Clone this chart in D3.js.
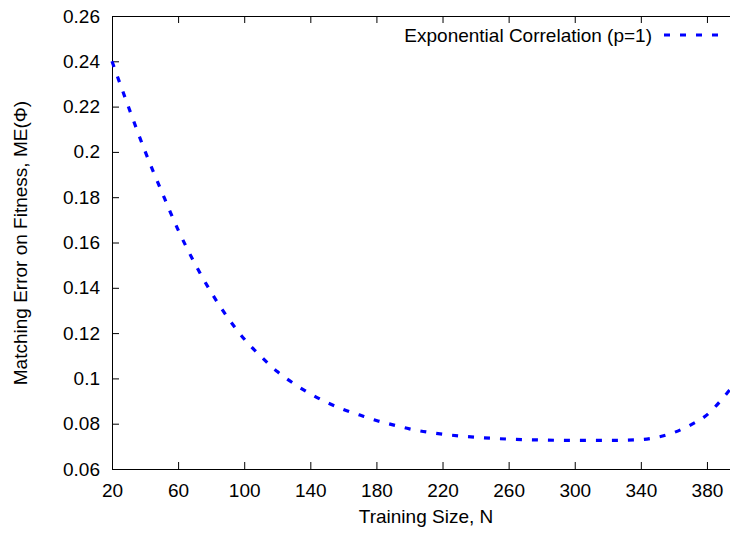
<!DOCTYPE html>
<html>
<head>
<meta charset="utf-8">
<script src="https://cdn.jsdelivr.net/npm/d3@7"></script>
<style>
  body { margin: 0; background: #fff; }
  svg { display: block; font-family: "Liberation Sans", Arial, sans-serif; }
  .axis path, .axis line { stroke: #000; }
  .axis text { font-size: 19px; fill: #000; }
</style>
</head>
<body>
<svg id="chart" width="730" height="533"></svg>
<script>
// training size N
const sizes = [20, 30, 40, 50, 60, 70, 80, 90, 100, 110, 120, 130, 140, 150, 160, 170, 180, 190,
  200, 220, 240, 260, 280, 300, 320, 340, 350, 360, 370, 380, 390, 394];
// matching error on fitness, ME(Phi)
const errors = [0.240, 0.2198, 0.2003, 0.1826, 0.1656, 0.1509, 0.138, 0.1269, 0.1174, 0.1098, 0.103,
  0.0977, 0.0932, 0.0894, 0.0863, 0.0838, 0.0814, 0.0795, 0.0777, 0.0754, 0.074, 0.0732, 0.0728,
  0.0726, 0.0726, 0.073, 0.074, 0.0761, 0.0794, 0.0839, 0.0916, 0.0951];
const xTicks = [20, 60, 100, 140, 180, 220, 260, 300, 340, 380];
const yTicks = [0.06, 0.08, 0.1, 0.12, 0.14, 0.16, 0.18, 0.2, 0.22, 0.24, 0.26];
const seriesName = "Exponential Correlation (p=1)";

const margin = { top: 16, left: 112 };
const plotW = 628, plotH = 453;

const svg = d3.select("svg#chart");
const g = svg.append("g").attr("transform", `translate(${margin.left}, ${margin.top})`);

const x = d3.scaleLinear().domain([20, 400]).range([0, plotW]);
const y = d3.scaleLinear().domain([0.06, 0.26]).range([plotH, 0]);

// bottom axis, ticks pointing inward
g.append("g")
  .attr("class", "axis")
  .attr("transform", `translate(0, ${plotH})`)
  .call(d3.axisBottom(x).tickValues(xTicks).tickSize(-7).tickPadding(15).tickSizeOuter(0))
  .selectAll("text").attr("dy", "0.71em");

// top mirror ticks
g.append("g")
  .attr("class", "axis")
  .call(d3.axisTop(x).tickValues(xTicks).tickSize(-7).tickFormat("").tickSizeOuter(0));

// left axis
g.append("g")
  .attr("class", "axis")
  .call(d3.axisLeft(y).tickValues(yTicks).tickSize(-7).tickPadding(12).tickSizeOuter(0)
    .tickFormat(d => d3.format("")(+d.toFixed(2))));

// right border (sits just past the cropped edge)
g.append("g")
  .attr("class", "axis")
  .attr("transform", `translate(${plotW}, 0)`)
  .call(d3.axisRight(y).tickValues(yTicks).tickSize(-7).tickFormat("").tickSizeOuter(0));

const line = d3.line()
  .x((d, i) => x(sizes[i]))
  .y(d => y(d))
  .curve(d3.curveMonotoneX);

g.append("path")
  .datum(errors)
  .attr("fill", "none")
  .attr("stroke", "#0000ff")
  .attr("stroke-width", 3.2)
  .attr("stroke-dasharray", "6,10")
  .attr("d", line);

// legend
svg.append("text")
  .attr("x", 652)
  .attr("y", 42)
  .attr("text-anchor", "end")
  .style("font-size", "19px")
  .text(seriesName);

svg.append("line")
  .attr("x1", 664).attr("x2", 718)
  .attr("y1", 35).attr("y2", 35)
  .attr("stroke", "#0000ff")
  .attr("stroke-width", 3.2)
  .attr("stroke-dasharray", "6,10");

// axis titles
svg.append("text")
  .attr("x", 426)
  .attr("y", 523)
  .attr("text-anchor", "middle")
  .style("font-size", "19px")
  .text("Training Size, N");

svg.append("text")
  .attr("transform", "translate(27, 243) rotate(-90)")
  .attr("text-anchor", "middle")
  .style("font-size", "19px")
  .text("Matching Error on Fitness, ME(Φ)");
</script>
</body>
</html>
